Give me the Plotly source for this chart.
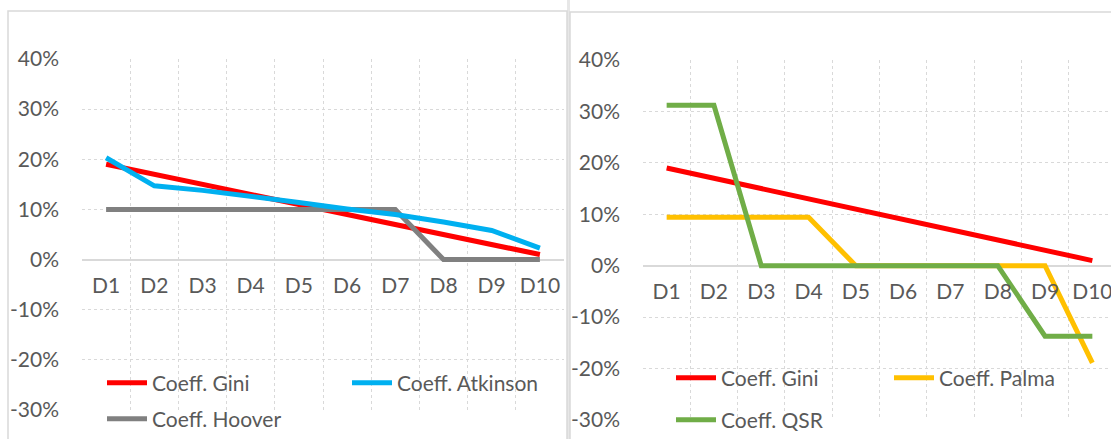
import plotly.graph_objects as go

W, H = 1111, 439

deciles = ["D1", "D2", "D3", "D4", "D5", "D6", "D7", "D8", "D9", "D10"]

gini = [0.19, 0.17, 0.15, 0.13, 0.11, 0.09, 0.07, 0.05, 0.03, 0.01]
atkinson = [0.203, 0.147, 0.138, 0.127, 0.114, 0.101, 0.090, 0.075, 0.058, 0.023]
hoover = [0.10, 0.10, 0.10, 0.10, 0.10, 0.10, 0.10, 0.0, 0.0, 0.0]

palma = [0.094, 0.094, 0.094, 0.094, 0.0, 0.0, 0.0, 0.0, 0.0, -0.189]
qsr = [0.312, 0.312, 0.0, 0.0, 0.0, 0.0, 0.0, 0.0, -0.137, -0.137]

y_ticks = [-0.3, -0.2, -0.1, 0.0, 0.1, 0.2, 0.3, 0.4]
y_labels = ["-30%", "-20%", "-10%", "0%", "10%", "20%", "30%", "40%"]

TXT = "#595959"
GRID = "#D9D9D9"
FONT = "Lato, 'Open Sans', sans-serif"
FS = 21


def px_x(v):
    return v / W


def px_y(v):
    return 1 - v / H


fig = go.Figure()

# (values, name, color, axes, legend id)
series = [
    (gini, "Coeff. Gini", "#FF0000", ("x", "y"), "legend"),
    (atkinson, "Coeff. Atkinson", "#00B0F0", ("x", "y"), "legend2"),
    (hoover, "Coeff. Hoover", "#808080", ("x", "y"), "legend3"),
    (gini, "Coeff. Gini", "#FF0000", ("x2", "y2"), "legend4"),
    (palma, "Coeff. Palma", "#FFC000", ("x2", "y2"), "legend5"),
    (qsr, "Coeff. QSR", "#70AD47", ("x2", "y2"), "legend6"),
]
# hoover below the blue line on the left
for i in [0, 2, 1, 3, 4, 5]:
    vals, name, color, (xa, ya), leg = series[i]
    fig.add_trace(
        go.Scatter(
            x=deciles,
            y=vals,
            mode="lines",
            name=name,
            line={"color": color, "width": 5},
            xaxis=xa,
            yaxis=ya,
            legend=leg,
            hoverinfo="skip",
        )
    )

xcommon = dict(
    type="category",
    tickson="boundaries",
    showgrid=True,
    gridcolor=GRID,
    griddash="dot",
    gridwidth=1,
    ticks="",
    tickangle=0,
    showline=False,
    zeroline=False,
    tickfont={"size": FS, "color": TXT, "family": FONT},
    anchor="free",
    ticklabelstandoff=12,
)
ycommon = dict(
    range=[-0.30, 0.40],
    tickvals=y_ticks,
    ticktext=y_labels,
    showgrid=True,
    gridcolor=GRID,
    griddash="dot",
    gridwidth=1,
    zeroline=True,
    zerolinecolor=GRID,
    zerolinewidth=1.5,
    showline=False,
    ticks="",
    ticklabelstandoff=22,
    tickfont={"size": FS, "color": TXT, "family": FONT},
)

cat_w2 = 47.3
fig.update_layout(
    xaxis=dict(xcommon, domain=[px_x(82), px_x(564)], range=[-0.5, 9.5], position=px_y(259)),
    yaxis=dict(ycommon, domain=[px_y(410), px_y(59)], anchor="x"),
    xaxis2=dict(
        xcommon,
        domain=[px_x(643), 1],
        range=[-0.5, -0.5 + (W - 643) / cat_w2],
        position=px_y(265),
    ),
    yaxis2=dict(ycommon, domain=[px_y(420), px_y(60)], anchor="x2"),
)

leg_base = dict(
    orientation="h",
    bgcolor="rgba(0,0,0,0)",
    font={"size": FS, "color": TXT, "family": FONT},
    itemwidth=40,
    xanchor="left",
    yanchor="middle",
    xref="paper",
    yref="paper",
)
fig.update_layout(
    legend=dict(leg_base, x=px_x(102), y=px_y(383)),
    legend2=dict(leg_base, x=px_x(347), y=px_y(383)),
    legend3=dict(leg_base, x=px_x(102), y=px_y(419)),
    legend4=dict(leg_base, x=px_x(671), y=px_y(378)),
    legend5=dict(leg_base, x=px_x(889), y=px_y(378)),
    legend6=dict(leg_base, x=px_x(671), y=px_y(420)),
)

# chart frames
fig.add_shape(type="rect", xref="paper", yref="paper",
              x0=px_x(567), x1=px_x(570), y0=0, y1=1,
              fillcolor="#E7E7E7", line={"width": 0}, layer="below")
fig.add_shape(type="rect", xref="paper", yref="paper",
              x0=px_x(8), x1=px_x(567), y0=-0.05, y1=px_y(11),
              line={"color": GRID, "width": 1.5}, layer="below")
fig.add_shape(type="rect", xref="paper", yref="paper",
              x0=px_x(570), x1=1.05, y0=-0.05, y1=px_y(12),
              line={"color": GRID, "width": 1.5}, layer="below")

fig.update_layout(
    width=W,
    height=H,
    margin={"l": 0, "r": 0, "t": 0, "b": 0, "autoexpand": False},
    paper_bgcolor="white",
    plot_bgcolor="white",
    showlegend=True,
    font={"family": FONT, "color": TXT},
)

fig.write_html(
    "out.html",
    config={"displayModeBar": False},
    post_script="document.body.style.margin='0';document.body.style.overflow='hidden';",
)
